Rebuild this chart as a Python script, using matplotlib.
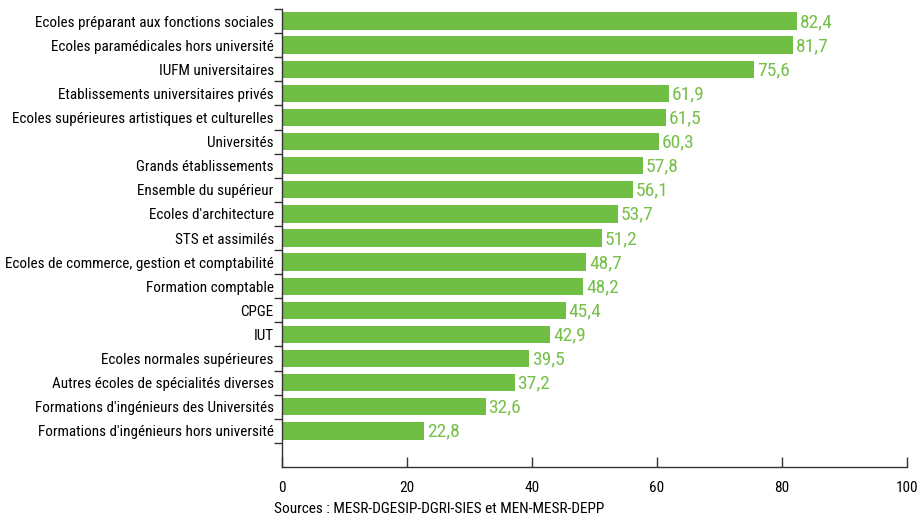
import matplotlib.pyplot as plt
import numpy as np
from matplotlib import font_manager

installed = set(f.name for f in font_manager.fontManager.ttflist)
family = 'DejaVu Sans'
for name in ['Liberation Sans Narrow', 'Roboto Condensed', 'Arial Narrow', 'Roboto']:
    if name in installed:
        family = name
        break
plt.rcParams['font.family'] = [family, 'DejaVu Sans']

categories = [
    "Ecoles préparant aux fonctions sociales",
    "Ecoles paramédicales hors université",
    "IUFM universitaires",
    "Etablissements universitaires privés",
    "Ecoles supérieures artistiques et culturelles",
    "Universités",
    "Grands établissements",
    "Ensemble du supérieur",
    "Ecoles d'architecture",
    "STS et assimilés",
    "Ecoles de commerce, gestion et comptabilité",
    "Formation comptable",
    "CPGE",
    "IUT",
    "Ecoles normales supérieures",
    "Autres écoles de spécialités diverses",
    "Formations d'ingénieurs des Universités",
    "Formations d'ingénieurs hors université",
]
values = [82.4, 81.7, 75.6, 61.9, 61.5, 60.3, 57.8, 56.1, 53.7, 51.2,
          48.7, 48.2, 45.4, 42.9, 39.5, 37.2, 32.6, 22.8]
xticks = [0, 20, 40, 60, 80, 100]

bar_color = '#70bf44'
label_color = '#76c04a'

fig = plt.figure(figsize=(9.2, 5.15), dpi=100)
ax = fig.add_axes([282 / 920, 1 - 467 / 515, 625 / 920, 458 / 515])

y = np.arange(len(categories))
ax.barh(y, values, height=0.72, color=bar_color)
for yi, v in zip(y, values):
    ax.text(v + 0.45, yi + 0.04, '{:.1f}'.format(v).replace('.', ','), va='center', ha='left',
            color=label_color, fontsize=14)

ax.set_xlim(0, 100)
ax.set_ylim(len(categories) + 0.5, -0.5)
ax.set_xticks(xticks)
ax.set_xticklabels([str(t) for t in xticks], fontsize=11)
ax.tick_params(axis='x', direction='in', length=7, width=1, pad=10, color='#333333')

ax.set_yticks(y)
ax.set_yticklabels(categories, fontsize=10.9)
ax.set_yticks(np.arange(len(categories) + 1) - 0.5, minor=True)
ax.tick_params(axis='y', which='major', length=0, pad=6)
ax.tick_params(axis='y', which='minor', direction='out', length=6, width=1, color='#333333')

for s in ['top', 'right']:
    ax.spines[s].set_visible(False)
for s in ['left', 'bottom']:
    ax.spines[s].set_color('#333333')
    ax.spines[s].set_linewidth(1)

fig.text(274 / 920, 1 - 509 / 515, "Sources : MESR-DGESIP-DGRI-SIES et MEN-MESR-DEPP",
         fontsize=11, va='center', ha='left')

fig.savefig('out.png', dpi=100)
